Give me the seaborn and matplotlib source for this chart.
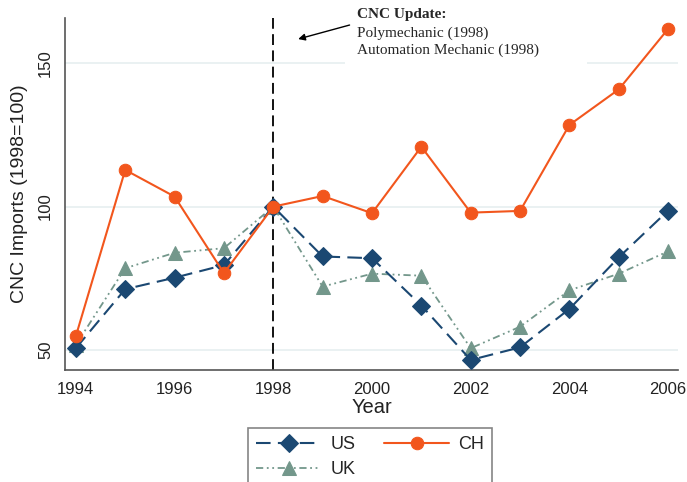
import numpy as np
import pandas as pd
import matplotlib
matplotlib.use("Agg")
import matplotlib.pyplot as plt
import matplotlib.patches as mpatches
import seaborn as sns

# ---------- data ----------
years = [1994, 1995, 1996, 1997, 1998, 1999, 2000, 2001, 2002, 2003, 2004, 2005, 2006]
us = [50.6, 71.2, 75.2, 79.6, 100, 82.6, 82.0, 65.5, 46.5, 50.9, 64.3, 82.3, 98.6]
ch = [54.8, 112.8, 103.5, 76.8, 100, 103.7, 97.7, 120.9, 97.9, 98.5, 128.5, 140.9, 162.0]
uk = [51.8, 78.5, 83.9, 85.5, 100, 72.1, 76.6, 75.9, 50.6, 58.1, 70.8, 76.6, 84.4]
xticks = [1994, 1996, 1998, 2000, 2002, 2004, 2006]
yticks = [50, 100, 150]

navy = "#1b4872"
orange = "#f2561d"
green = "#73978b"
grid_c = "#e6eff0"
spine_c = "#555555"

sns.set_style("white")
plt.rcParams['font.family'] = ['Liberation Sans', 'DejaVu Sans']

fig = plt.figure(figsize=(6.87, 4.82), dpi=100)
ax = fig.add_axes([65/687, (482-370)/482, (678-65)/687, (370-18)/482])

# light horizontal grid
for y in yticks:
    ax.axhline(y, color=grid_c, lw=1.2, zorder=0)

# white box behind annotation text (hides part of the top gridline)
ax.add_patch(mpatches.Rectangle((0.457, 0.85), 0.395, 0.2, transform=ax.transAxes,
                                facecolor="white", edgecolor="none", zorder=1, clip_on=False))

# vertical reference line at 1998
ax.axvline(1998, color="black", lw=1.3, linestyle=(0, (6, 3)), zorder=2)

sns.lineplot(x=years, y=us, ax=ax, color=navy, marker="D", markersize=9,
             markeredgecolor=navy, linestyle=(0, (7, 3.5)), lw=1.5, label="US", zorder=4)
sns.lineplot(x=years, y=uk, ax=ax, color=green, marker="^", markersize=10,
             markeredgecolor=green, linestyle=(0, (4, 2, 1, 2, 1, 2)), lw=1.3, label="UK", zorder=3)
sns.lineplot(x=years, y=ch, ax=ax, color=orange, marker="o", markersize=9,
             markeredgecolor=orange, linestyle="-", lw=1.5, label="CH", zorder=5)

ax.set_xlim(1993.78, 2006.2)
ax.set_ylim(43.0, 165.8)
ax.set_xticks(xticks)
ax.set_yticks(yticks)
ax.tick_params(axis="both", direction="out", length=5, width=1, color=spine_c,
               labelsize=12, labelcolor="#222222")
for lab in ax.get_yticklabels():
    lab.set_rotation(90)
    lab.set_va("center")
ax.set_xlabel("Year", fontsize=14.5, color="#222222", labelpad=1)
ax.set_ylabel("CNC Imports (1998=100)", fontsize=14, color="#222222", labelpad=7)

sns.despine(ax=ax)
for s in ["left", "bottom"]:
    ax.spines[s].set_color(spine_c)
    ax.spines[s].set_linewidth(1.2)

# annotation
ax.annotate("", xy=(1998.45, 158.2), xytext=(1999.6, 163.6),
            arrowprops=dict(arrowstyle="-|>", color="black", lw=1, mutation_scale=10),
            annotation_clip=False, zorder=6)
ax.text(1999.7, 167.0, "CNC Update:", fontsize=11, fontweight="bold",
        family="Liberation Serif", va="center", ha="left", zorder=6, clip_on=False)
ax.text(1999.7, 160.6, "Polymechanic (1998)", fontsize=11,
        family="Liberation Serif", va="center", ha="left", zorder=6, clip_on=False)
ax.text(1999.7, 154.6, "Automation Mechanic (1998)", fontsize=11,
        family="Liberation Serif", va="center", ha="left", zorder=6, clip_on=False)

# legend below the plot (partly cut off at the bottom, as in the reference)
handles, labels = ax.get_legend_handles_labels()
order = [labels.index(l) for l in ["US", "UK", "CH"]]
leg = fig.legend([handles[i] for i in order], [labels[i] for i in order],
                 ncol=2, loc="upper left", bbox_to_anchor=(248/687, 1 - 428/482),
                 borderaxespad=0, frameon=True, fancybox=False, fontsize=13,
                 handlelength=3.6, columnspacing=1.6, handletextpad=0.5,
                 borderpad=0.45, labelspacing=0.45)
leg.get_frame().set_edgecolor("#666666")
leg.get_frame().set_linewidth(1.2)
if ax.get_legend():
    ax.get_legend().remove()

fig.savefig("out.png", dpi=100)
